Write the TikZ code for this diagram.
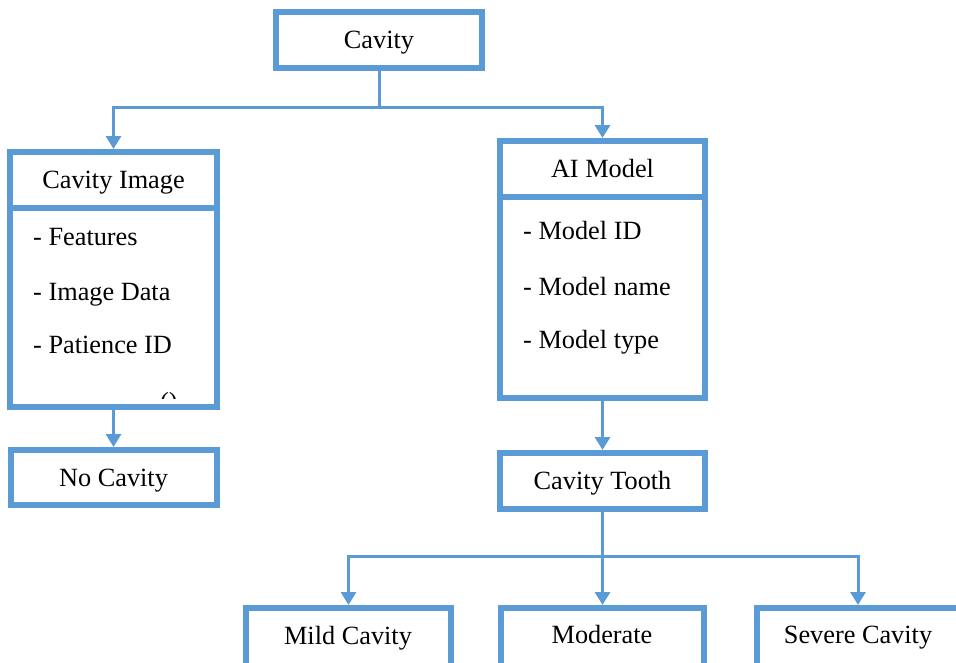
\documentclass[tikz,border=0pt]{standalone}
\usepackage{fontspec}
\setmainfont{Liberation Serif}
\usetikzlibrary{arrows.meta}
\definecolor{bl}{RGB}{91,155,213}
\begin{document}
\begin{tikzpicture}[x=1pt,y=-1pt,
 box/.style={draw=bl,line width=6pt,fill=white,rectangle,inner sep=0pt,text height=17.4pt,text depth=0pt,font=\fontsize{26.3}{30}\selectfont},
 conn/.style={draw=bl,line width=3pt},
 arr/.style={conn,-{Triangle[width=15pt,length=13pt]}},
 txt/.style={font=\fontsize{26.3}{30}\selectfont,inner sep=0pt,anchor=base west}]
\useasboundingbox (0,0) rectangle (956,662);
\clip (0,0) rectangle (956,662);
% boxes
\node[box,minimum width=206pt,minimum height=56pt] (cav) at (379,40) {Cavity};
\node[box,minimum width=207pt,minimum height=199pt] (cib) at (113.5,307.5) {};
\node[box,minimum width=207pt,minimum height=56pt] (cih) at (113.5,180) {Cavity Image};
\node[box,minimum width=205pt,minimum height=201pt] (aib) at (602.5,297.5) {};
\node[box,minimum width=205pt,minimum height=56pt] (aih) at (602.5,169) {AI Model};
\node[box,minimum width=206pt,minimum height=55pt] (nc) at (113.5,477.5) {No Cavity};
\node[box,minimum width=205pt,minimum height=56pt] (ct) at (602.5,481) {Cavity Tooth};
\node[box,minimum width=205pt,minimum height=82pt] (mild) at (348.5,649) {};
\node[box,minimum width=203pt,minimum height=82pt] (mod) at (602.5,649) {};
\node[box,minimum width=223pt,minimum height=82pt] (sev) at (868.5,649) {};
\node[txt,anchor=base] (mildt) at (348,644) {Mild Cavity};
\node[txt,anchor=base] (modt) at (602,643) {Moderate};
\node[txt,anchor=base] (sevt) at (858,643) {Severe Cavity};
% attribute lines
\node[txt] (f1) at (33,245) {- Features};
\node[txt] (f2) at (33,300) {- Image Data};
\node[txt] (f3) at (33,353) {- Patience ID};
\node[txt] (m1) at (523,239) {- Model ID};
\node[txt] (m2) at (523,295) {- Model name};
\node[txt] (m3) at (523,348) {- Model type};
\begin{scope}
\clip (150,385) rectangle (185,398);
\node[txt] (art) at (160,410) {()};
\end{scope}
% connectors
\coordinate (jt) at (379,107);
\coordinate (jb) at (602.5,556);
\draw[conn] (cav.south) -- (jt);
\draw[arr] (jt) -| (cih.north);
\draw[arr] (jt) -| (aih.north);
\draw[arr] (cib.south) -- (nc.north);
\draw[arr] (aib.south) -- (ct.north);
\draw[conn] (ct.south) -- (jb);
\draw[arr] (jb) -| (mild.north);
\draw[arr] (jb) -- (mod.north);
\draw[arr] (jb) -| ([xshift=-10.5pt]sev.north);
\end{tikzpicture}
\end{document}
